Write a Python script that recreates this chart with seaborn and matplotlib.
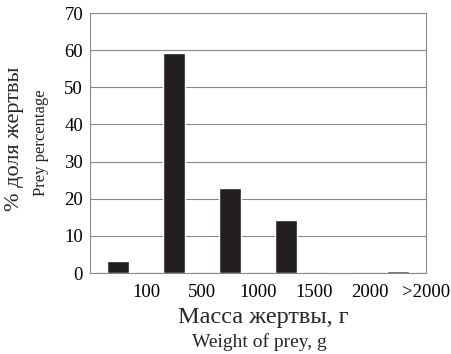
import numpy as np
import matplotlib
matplotlib.use('Agg')
import matplotlib.pyplot as plt
import seaborn as sns

# weight classes (upper boundary labels) and share of prey, %
categories = ['<100', '100-500', '500-1000', '1000-1500', '1500-2000', '>2000']
values = [3.3, 59.2, 22.9, 14.2, 0.0, 0.5]
tick_labels = ['100', '500', '1000', '1500', '2000', '>2000']

sns.set_theme(style='white')
plt.rcParams['font.family'] = ['Liberation Serif', 'DejaVu Serif']

fig = plt.figure(figsize=(4.52, 3.54), dpi=100)
ax = fig.add_axes([90 / 452, 1 - 273 / 354, 336 / 452, 260 / 354])

sns.barplot(x=categories, y=values, color='#231f20', width=0.4,
            saturation=1, ax=ax, zorder=3)

ax.set_ylim(0, 70)
ax.set_yticks(range(0, 71, 10))
ax.set_xlim(-0.5, 5.5)
ax.set_xticks(np.arange(len(tick_labels)) + 0.5)
ax.set_xticklabels(tick_labels)
ax.tick_params(axis='both', labelsize=13.5, colors='#777777', labelcolor='black',
               length=3, width=0.8, direction='out')
ax.tick_params(axis='x', pad=5)
ax.tick_params(axis='y', pad=2)
ax.yaxis.grid(True, color='#888888', linewidth=0.8, zorder=0)
for side in ['left', 'right', 'bottom']:
    ax.spines[side].set_color('#888888')
    ax.spines[side].set_linewidth(0.8)
ax.spines['top'].set_visible(False)
ax.set_xlabel('')
ax.set_ylabel('')

fig.text(263 / 452, 1 - 318 / 354, 'Масса жертвы, г', fontsize=17.5, ha='center', va='center')
fig.text(259 / 452, 1 - 342 / 354, 'Weight of prey, g', fontsize=14, ha='center', va='center')
fig.text(15 / 452, 1 - 139 / 354, '% доля жертвы', fontsize=16, rotation=90, ha='center', va='center')
fig.text(41 / 452, 1 - 143 / 354, 'Prey percentage', fontsize=12, rotation=90, ha='center', va='center')

fig.savefig('out.png', dpi=100)
